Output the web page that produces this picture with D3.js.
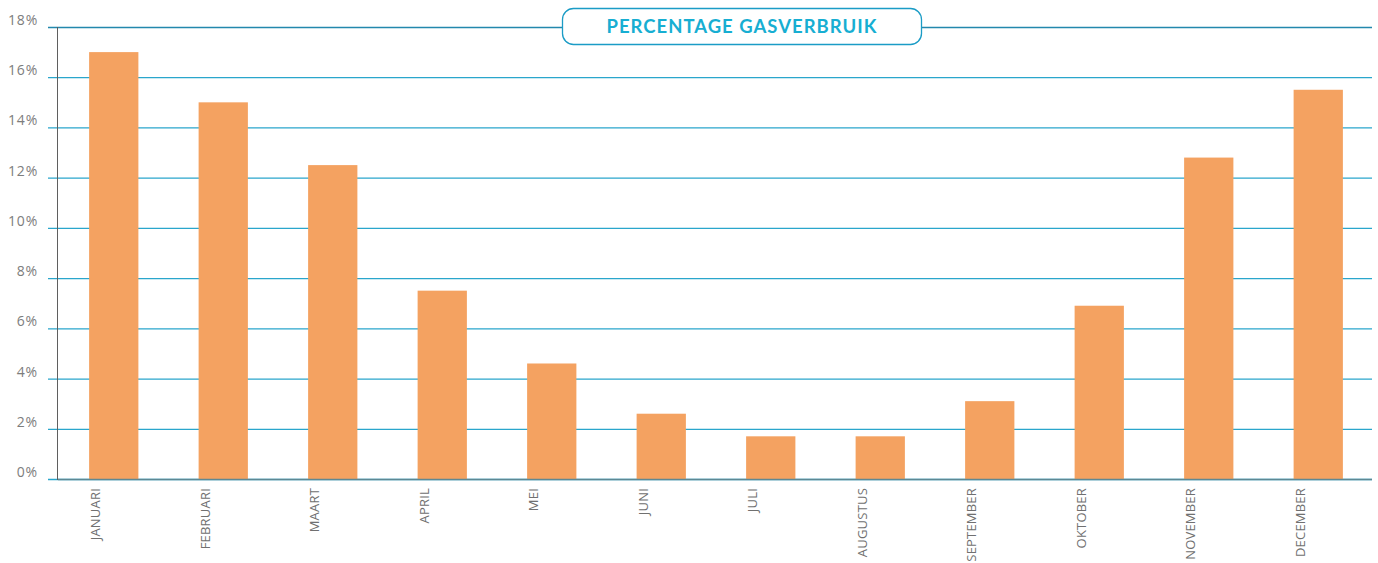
<!DOCTYPE html>
<html>
<head>
<meta charset="utf-8">
<script src="https://cdn.jsdelivr.net/npm/d3@7"></script>
<style>
  body { margin: 0; background: #fff; }
  svg { display: block; }
</style>
</head>
<body>
<div id="chart"></div>
<script>
let months = ['JANUARI', 'FEBRUARI', 'MAART', 'APRIL', 'MEI', 'JUNI', 'JULI',
              'AUGUSTUS', 'SEPTEMBER', 'OKTOBER', 'NOVEMBER', 'DECEMBER'];
let gasPct = [17.0, 15.0, 12.5, 7.5, 4.6, 2.6, 1.7, 1.7, 3.1, 6.9, 12.8, 15.5];
let yTicks = [0, 2, 4, 6, 8, 10, 12, 14, 16, 18];
let title = 'PERCENTAGE GASVERBRUIK';

let width = 1378, height = 563;
let margin = {top: 27, bottom: 84, left: 58, right: 6};

let svg = d3.select("#chart").append("svg")
  .attr("width", width)
  .attr("height", height);

let x = d3.scaleBand()
  .domain(months)
  .range([margin.left + 1, width - margin.right + 1])
  .paddingInner(0.55)
  .paddingOuter(0.275);

let y = d3.scaleLinear()
  .domain([0, 18])
  .range([height - margin.bottom, margin.top]);

// gridlines
svg.append("g").selectAll("line")
  .data(yTicks)
  .enter().append("line")
    .attr("x1", margin.left - 10)
    .attr("x2", width - margin.right)
    .attr("y1", d => y(d) + 0.5)
    .attr("y2", d => y(d) + 0.5)
    .attr("stroke", d => d == 18 ? "#2388ad" : "#2aa6cc")
    .attr("stroke-width", 1.3);

// y tick labels
svg.append("g").selectAll("text")
  .data(yTicks)
  .enter().append("text")
    .attr("x", 38)
    .attr("y", d => y(d) - 2)
    .attr("text-anchor", "end")
    .attr("font-family", "Open Sans, sans-serif")
    .attr("font-size", 14)
    .attr("letter-spacing", 0.8)
    .attr("fill", "#7d7d7d")
    .text(d => d + "%");

// bars
svg.append("g").selectAll("rect")
  .data(months)
  .enter().append("rect")
    .attr("x", d => x(d))
    .attr("width", x.bandwidth())
    .attr("y", (d, i) => y(gasPct[i]))
    .attr("height", (d, i) => y(0) - y(gasPct[i]))
    .attr("fill", "#f4a261");

// axis lines
svg.append("line")
  .attr("x1", margin.left - 0.5).attr("x2", margin.left - 0.5)
  .attr("y1", y(18)).attr("y2", y(0) + 1)
  .attr("stroke", "#5f5f5f").attr("stroke-width", 1);

svg.append("line")
  .attr("x1", margin.left).attr("x2", width - margin.right)
  .attr("y1", y(0) + 0.5).attr("y2", y(0) + 0.5)
  .attr("stroke", "#5d8894").attr("stroke-width", 1.6);

// month labels
svg.append("g").selectAll("text")
  .data(months)
  .enter().append("text")
    .attr("transform", d => "translate(" + (x(d) + 11) + "," + (y(0) + 9) + ") rotate(-90)")
    .attr("text-anchor", "end")
    .attr("font-family", "Open Sans, sans-serif")
    .attr("font-size", 13)
    .attr("letter-spacing", 0.2)
    .attr("fill", "#707070")
    .text(d => d);

// title box
let titleG = svg.append("g");
titleG.append("rect")
  .attr("x", 562.5).attr("y", 8.5)
  .attr("width", 359).attr("height", 36)
  .attr("rx", 11)
  .attr("fill", "#fff")
  .attr("stroke", "#1b9cc6")
  .attr("stroke-width", 1.3);
titleG.append("text")
  .attr("x", 742)
  .attr("y", 33)
  .attr("text-anchor", "middle")
  .attr("font-family", "Lato, sans-serif")
  .attr("font-weight", "bold")
  .attr("font-size", 18.5)
  .attr("letter-spacing", 1)
  .attr("fill", "#17aed2")
  .text(title);
</script>
</body>
</html>
